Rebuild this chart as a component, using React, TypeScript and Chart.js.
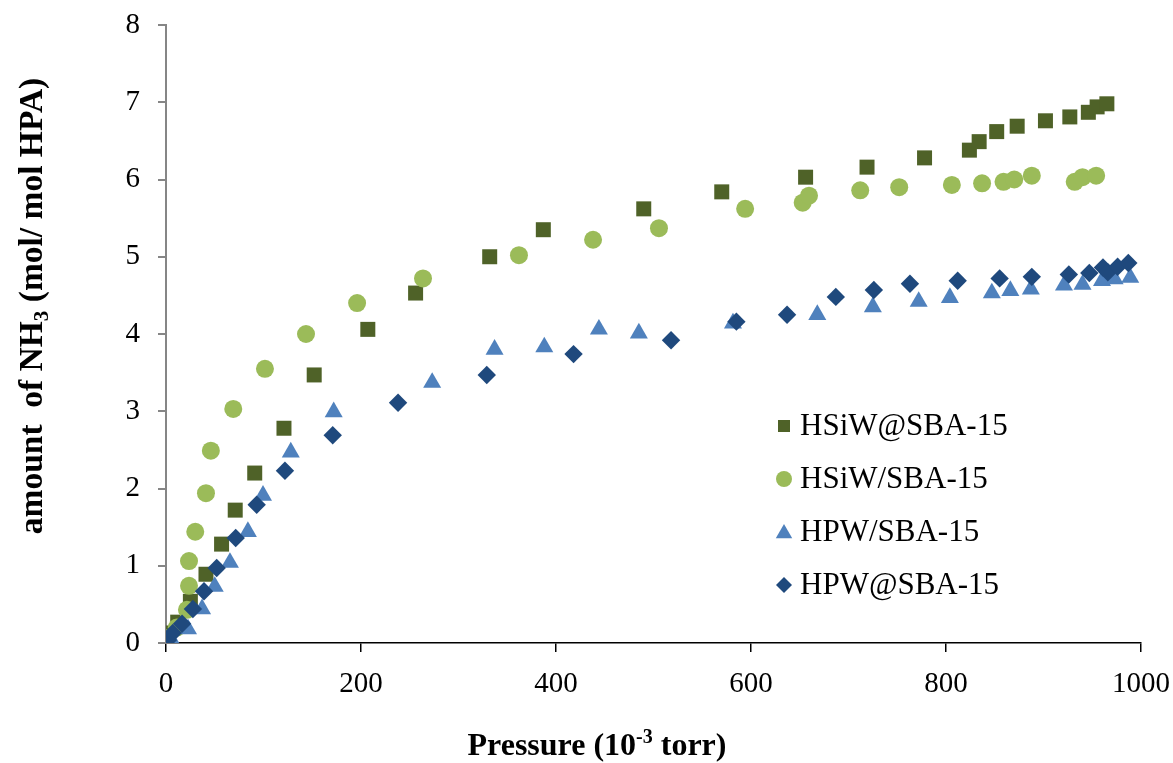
import React, { useEffect, useRef } from "react";
import { Chart, registerables } from "chart.js";

Chart.register(...registerables);

// NH3 adsorption isotherms: pressure (10^-3 torr) vs. amount adsorbed (mol/mol HPA)
const seriesNames = ["HSiW@SBA-15", "HSiW/SBA-15", "HPW/SBA-15", "HPW@SBA-15"];

const hsiwAtX = [2.5, 12, 25, 41, 57, 71, 91, 121, 152, 207, 256, 332, 387, 490, 570, 656, 719, 778, 824, 834, 852, 873, 902, 927, 946, 955, 965];
const hsiwAtY = [0.13, 0.27, 0.54, 0.89, 1.28, 1.72, 2.2, 2.78, 3.47, 4.06, 4.53, 5.0, 5.35, 5.62, 5.84, 6.03, 6.16, 6.28, 6.38, 6.49, 6.62, 6.69, 6.76, 6.81, 6.87, 6.94, 6.98];

const hsiwSlashX = [1, 11, 21.5, 23.6, 23.6, 30, 41, 46, 69, 101.5, 143.6, 196, 263.6, 362, 438, 505.6, 594, 653, 659.5, 712, 752, 806, 837, 859, 870, 888, 932, 940, 954];
const hsiwSlashY = [0.06, 0.2, 0.43, 0.74, 1.06, 1.44, 1.94, 2.49, 3.03, 3.55, 4.0, 4.4, 4.72, 5.02, 5.22, 5.37, 5.62, 5.7, 5.79, 5.86, 5.9, 5.93, 5.95, 5.97, 6.0, 6.05, 5.97, 6.03, 6.05];

const hpwSlashX = [7, 22.6, 37, 50, 65.6, 84, 99.5, 128, 172, 273, 337, 388, 444, 485, 581.5, 668, 725, 772, 804, 847, 866, 887, 921, 940, 960, 973, 989];
const hpwSlashY = [0.01, 0.18, 0.44, 0.73, 1.04, 1.44, 1.91, 2.47, 2.99, 3.37, 3.8, 3.83, 4.06, 4.01, 4.14, 4.25, 4.35, 4.42, 4.47, 4.53, 4.56, 4.58, 4.63, 4.64, 4.69, 4.71, 4.73];

const hpwAtX = [2, 7, 16.5, 27.6, 39, 52, 71.5, 93, 122, 171, 238, 329, 418, 518, 585, 637, 687, 726, 763, 812, 855, 888, 926, 947, 961, 966, 976, 987];
const hpwAtY = [0.04, 0.13, 0.25, 0.44, 0.67, 0.97, 1.36, 1.79, 2.23, 2.69, 3.11, 3.47, 3.74, 3.92, 4.16, 4.25, 4.48, 4.57, 4.65, 4.69, 4.72, 4.74, 4.77, 4.79, 4.86, 4.8, 4.87, 4.92];

const xTickValues = [0, 200, 400, 600, 800, 1000];
const yTickValues = [0, 1, 2, 3, 4, 5, 6, 7, 8];

const colors = ["#4F6228", "#9BBB59", "#4F81BD", "#1F497D"];
const styles = ["rect", "circle", "triangle", "rectRot"] as const;
const radii = [10.6, 9, 10.4, 9.2];
const legendRadii = [8.5, 8, 9.5, 8];

const FONT = "'Liberation Serif', 'Times New Roman', serif";

const toPoints = (xs: number[], ys: number[]) => xs.map((x, i) => ({ x, y: ys[i] }));

// Axis titles (with sub/superscripts) and the in-plot legend
const decorations = {
  id: "decorations",
  afterDraw(chart: any) {
    const ctx: CanvasRenderingContext2D = chart.ctx;
    ctx.save();
    ctx.fillStyle = "#000";
    ctx.textBaseline = "alphabetic";

    // x-axis title: Pressure (10^-3 torr)
    const big = `bold 32px ${FONT}`;
    const sup = `bold 20px ${FONT}`;
    const partA = "Pressure (10";
    const partB = "-3";
    const partC = " torr)";
    ctx.font = big;
    const wA = ctx.measureText(partA).width;
    const wC = ctx.measureText(partC).width;
    ctx.font = sup;
    const wB = ctx.measureText(partB).width;
    let x = 597 - (wA + wB + wC) / 2;
    const base = 755;
    ctx.font = big;
    ctx.fillText(partA, x, base);
    x += wA;
    ctx.font = sup;
    ctx.fillText(partB, x, base - 12);
    x += wB;
    ctx.font = big;
    ctx.fillText(partC, x, base);

    // y-axis title: amount of NH3 (mol/ mol HPA)
    ctx.save();
    ctx.translate(42, 306);
    ctx.rotate(-Math.PI / 2);
    const yBig = `bold 33.5px ${FONT}`;
    const ySub = `bold 21px ${FONT}`;
    const tA = "amount  of NH";
    const tB = "3";
    const tC = " (mol/ mol HPA)";
    ctx.font = yBig;
    const ya = ctx.measureText(tA).width;
    const yc = ctx.measureText(tC).width;
    ctx.font = ySub;
    const yb = ctx.measureText(tB).width;
    let t = -(ya + yb + yc) / 2;
    ctx.font = yBig;
    ctx.fillText(tA, t, 0);
    t += ya;
    ctx.font = ySub;
    ctx.fillText(tB, t, 6);
    t += yb;
    ctx.font = yBig;
    ctx.fillText(tC, t, 0);
    ctx.restore();

    // legend
    const rowY = [426, 479, 532, 585];
    ctx.font = `31px ${FONT}`;
    ctx.textBaseline = "middle";
    seriesNames.forEach((name, i) => {
      const cx = 784;
      const cy = rowY[i];
      const r = legendRadii[i];
      ctx.fillStyle = colors[i];
      ctx.beginPath();
      if (styles[i] === "rect") {
        const s = r * Math.SQRT1_2;
        ctx.rect(cx - s, cy - s, 2 * s, 2 * s);
      } else if (styles[i] === "circle") {
        ctx.arc(cx, cy, r, 0, Math.PI * 2);
      } else if (styles[i] === "triangle") {
        ctx.moveTo(cx, cy - r * 0.75 - 1);
        ctx.lineTo(cx + r * 0.866, cy + r * 0.75 - 1);
        ctx.lineTo(cx - r * 0.866, cy + r * 0.75 - 1);
        ctx.closePath();
      } else {
        ctx.moveTo(cx, cy - r);
        ctx.lineTo(cx + r, cy);
        ctx.lineTo(cx, cy + r);
        ctx.lineTo(cx - r, cy);
        ctx.closePath();
      }
      ctx.fill();
      ctx.fillStyle = "#000";
      ctx.fillText(name, 800, cy + 1);
    });
    ctx.restore();
  },
};

export default function App() {
  const canvasRef = useRef<HTMLCanvasElement | null>(null);

  useEffect(() => {
    document.body.style.margin = "0";
    const canvas = canvasRef.current;
    if (!canvas) return;

    const series = [
      toPoints(hsiwAtX, hsiwAtY),
      toPoints(hsiwSlashX, hsiwSlashY),
      toPoints(hpwSlashX, hpwSlashY),
      toPoints(hpwAtX, hpwAtY),
    ];

    const chart = new Chart(canvas, {
      type: "scatter",
      data: {
        datasets: series.map((data, i) => ({
          label: seriesNames[i],
          data,
          pointStyle: styles[i],
          pointRadius: radii[i],
          pointHoverRadius: radii[i],
          backgroundColor: colors[i],
          borderColor: colors[i],
          borderWidth: 0,
          order: 4 - i,
        })),
      },
      options: {
        responsive: false,
        animation: false,
        devicePixelRatio: 1,
        layout: { padding: { left: 0, top: 25, right: 32, bottom: 0 } },
        plugins: {
          legend: { display: false },
          tooltip: { enabled: false },
        },
        scales: {
          x: {
            type: "linear",
            min: 0,
            max: 1000,
            afterBuildTicks: (scale: any) => {
              scale.ticks = xTickValues.map((v) => ({ value: v }));
            },
            afterFit: (scale: any) => {
              scale.height = 120;
              scale.paddingLeft = 0;
              scale.paddingRight = 0;
            },
            ticks: {
              color: "#000",
              font: { family: FONT, size: 29 },
              padding: 15,
              maxRotation: 0,
              callback: (v: any) => String(v),
            },
            grid: {
              display: true,
              drawOnChartArea: false,
              drawTicks: true,
              tickLength: 9,
              color: "#000",
              lineWidth: 1.5,
            },
            border: { display: true, color: "#000", width: 1.5 },
          },
          y: {
            type: "linear",
            min: 0,
            max: 8,
            afterBuildTicks: (scale: any) => {
              scale.ticks = yTickValues.map((v) => ({ value: v }));
            },
            afterFit: (scale: any) => {
              scale.width = 166;
              scale.paddingTop = 0;
              scale.paddingBottom = 0;
            },
            ticks: {
              color: "#000",
              font: { family: FONT, size: 29 },
              padding: 18,
              callback: (v: any) => String(v),
            },
            grid: {
              display: true,
              drawOnChartArea: false,
              drawTicks: true,
              tickLength: 8,
              color: "#868686",
              lineWidth: 2,
            },
            border: { display: true, color: "#868686", width: 2 },
          },
        },
      },
      plugins: [decorations],
    });

    return () => chart.destroy();
  }, []);

  return (
    <div style={{ width: 1173, height: 763, background: "#fff" }}>
      <canvas ref={canvasRef} width={1173} height={763} />
    </div>
  );
}
